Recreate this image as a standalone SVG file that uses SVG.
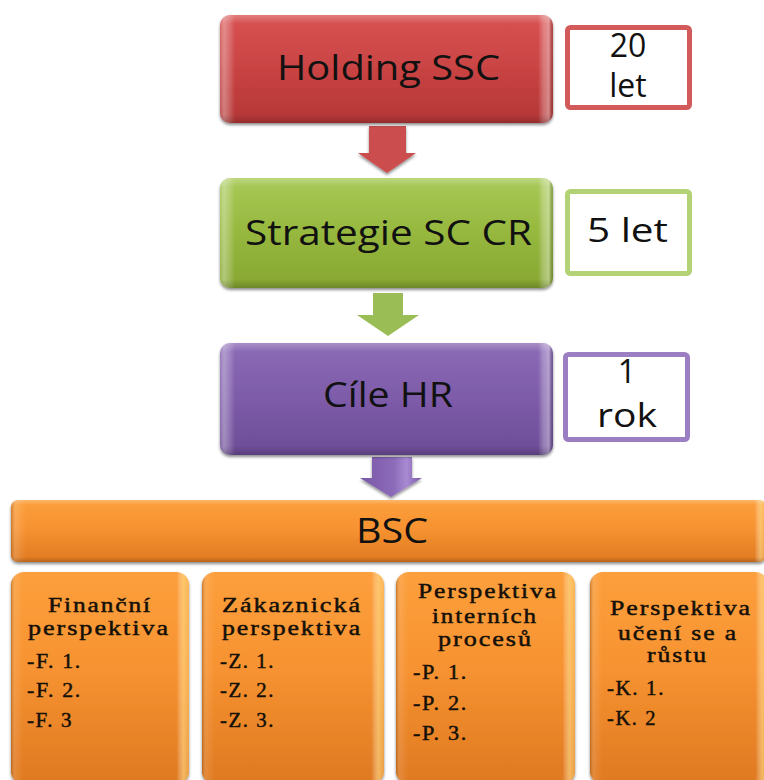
<svg xmlns="http://www.w3.org/2000/svg" width="764" height="780" viewBox="0 0 764 780">
  <style>
    .sans { font-family: "Open Sans", "Liberation Sans", sans-serif; fill: #111; }
    .serif { font-family: "Liberation Serif", "DejaVu Serif", serif; fill: #141008; stroke: #141008; stroke-width: 0.45px; font-size: 20px; letter-spacing: 1.5px; }
    .big { font-size: 34px; }
    .tag { font-size: 32px; }
  </style>
  <defs>
    <linearGradient id="gRed" x1="0" y1="0" x2="0" y2="1">
      <stop offset="0" stop-color="#d95353"/>
      <stop offset="0.5" stop-color="#c94343"/>
      <stop offset="1" stop-color="#b43636"/>
    </linearGradient>
    <linearGradient id="gGreen" x1="0" y1="0" x2="0" y2="1">
      <stop offset="0" stop-color="#a8c957"/>
      <stop offset="0.5" stop-color="#96b83e"/>
      <stop offset="1" stop-color="#86a631"/>
    </linearGradient>
    <linearGradient id="gPurple" x1="0" y1="0" x2="0" y2="1">
      <stop offset="0" stop-color="#8c6bb6"/>
      <stop offset="0.5" stop-color="#7d5ba9"/>
      <stop offset="1" stop-color="#6c4c96"/>
    </linearGradient>
    <linearGradient id="gOrange" x1="0" y1="0" x2="0" y2="1">
      <stop offset="0" stop-color="#fc9f3c"/>
      <stop offset="0.45" stop-color="#f79331"/>
      <stop offset="1" stop-color="#df7922"/>
    </linearGradient>
    <!-- side bevels: light bands at left and right edges -->
    <linearGradient id="bevelMain" x1="0" y1="0" x2="1" y2="0">
      <stop offset="0" stop-color="#fff" stop-opacity="0.15"/>
      <stop offset="0.012" stop-color="#fff" stop-opacity="0.35"/>
      <stop offset="0.03" stop-color="#fff" stop-opacity="0.18"/>
      <stop offset="0.045" stop-color="#fff" stop-opacity="0"/>
      <stop offset="0.955" stop-color="#fff" stop-opacity="0"/>
      <stop offset="0.97" stop-color="#fff" stop-opacity="0.25"/>
      <stop offset="0.988" stop-color="#fff" stop-opacity="0.4"/>
      <stop offset="1" stop-color="#000" stop-opacity="0.15"/>
    </linearGradient>
    <linearGradient id="bevelWide" x1="0" y1="0" x2="1" y2="0">
      <stop offset="0" stop-color="#7a3c00" stop-opacity="0.35"/>
      <stop offset="0.006" stop-color="#fff" stop-opacity="0.15"/>
      <stop offset="0.02" stop-color="#fff" stop-opacity="0"/>
      <stop offset="0.985" stop-color="#fff" stop-opacity="0"/>
      <stop offset="0.993" stop-color="#ffe090" stop-opacity="0.6"/>
      <stop offset="1" stop-color="#ffe090" stop-opacity="0.3"/>
    </linearGradient>
    <linearGradient id="bevelTile" x1="0" y1="0" x2="1" y2="0">
      <stop offset="0" stop-color="#7a3c00" stop-opacity="0.4"/>
      <stop offset="0.025" stop-color="#fff" stop-opacity="0.1"/>
      <stop offset="0.07" stop-color="#fff" stop-opacity="0"/>
      <stop offset="0.93" stop-color="#fff" stop-opacity="0"/>
      <stop offset="0.97" stop-color="#ffe08a" stop-opacity="0.6"/>
      <stop offset="1" stop-color="#ffe08a" stop-opacity="0.35"/>
    </linearGradient>
    <linearGradient id="topSheen" x1="0" y1="0" x2="0" y2="1">
      <stop offset="0" stop-color="#fff" stop-opacity="0.25"/>
      <stop offset="0.08" stop-color="#fff" stop-opacity="0"/>
      <stop offset="0.92" stop-color="#000" stop-opacity="0"/>
      <stop offset="1" stop-color="#000" stop-opacity="0.18"/>
    </linearGradient>
    <linearGradient id="arrowPurple" x1="0" y1="0" x2="1" y2="0">
      <stop offset="0" stop-color="#7a58a6"/>
      <stop offset="0.55" stop-color="#8c6bba"/>
      <stop offset="0.75" stop-color="#a88ad2"/>
      <stop offset="1" stop-color="#7a58a6"/>
    </linearGradient>
    <filter id="shadow" x="-5%" y="-5%" width="110%" height="120%">
      <feDropShadow dx="0" dy="2" stdDeviation="1.5" flood-color="#000" flood-opacity="0.45"/>
    </filter>
  </defs>

  <!-- connectors: block arrows between levels -->
  <g id="connectors">
    <polygon points="369,126 406,126 406,153 416,153 387,173 358,153 369,153" fill="#cc4d4d" filter="url(#shadow)"/>
    <polygon points="373,293 403,293 403,315 419,315 388,336 357,315 373,315" fill="#9bbd55"/>
    <polygon points="372,457 412,457 412,478 422,478 391,497 360,478 372,478" fill="url(#arrowPurple)" filter="url(#shadow)"/>
  </g>

  <!-- level 1 -->
  <g id="holding">
    <rect x="220" y="15" width="333" height="108" rx="10" fill="url(#gRed)" filter="url(#shadow)"/>
    <rect x="220" y="15" width="333" height="108" rx="10" fill="url(#bevelMain)"/>
    <rect x="220" y="15" width="333" height="108" rx="10" fill="url(#topSheen)"/>
    <text class="sans big" x="277" y="80" textLength="223" lengthAdjust="spacingAndGlyphs">Holding SSC</text>
  </g>
  <g id="term-20">
    <rect x="567.5" y="27.5" width="122" height="80" rx="3" fill="#fff" stroke="#d35a5a" stroke-width="5"/>
    <text class="sans tag" x="628" y="57" text-anchor="middle">20</text>
    <text class="sans tag" x="628" y="97" text-anchor="middle">let</text>
  </g>

  <!-- level 2 -->
  <g id="strategie">
    <rect x="220" y="178" width="333" height="110" rx="10" fill="url(#gGreen)" filter="url(#shadow)"/>
    <rect x="220" y="178" width="333" height="110" rx="10" fill="url(#bevelMain)"/>
    <rect x="220" y="178" width="333" height="110" rx="10" fill="url(#topSheen)"/>
    <text class="sans big" x="245" y="245" textLength="287" lengthAdjust="spacingAndGlyphs">Strategie SC CR</text>
  </g>
  <g id="term-5">
    <rect x="567.5" y="191.5" width="122" height="82" rx="3" fill="#fff" stroke="#b3d276" stroke-width="5"/>
    <text class="sans tag" x="587" y="242" textLength="81" lengthAdjust="spacingAndGlyphs">5 let</text>
  </g>

  <!-- level 3 -->
  <g id="cile-hr">
    <rect x="220" y="343" width="333" height="112" rx="10" fill="url(#gPurple)" filter="url(#shadow)"/>
    <rect x="220" y="343" width="333" height="112" rx="10" fill="url(#bevelMain)"/>
    <rect x="220" y="343" width="333" height="112" rx="10" fill="url(#topSheen)"/>
    <text class="sans big" x="323" y="407" textLength="130" lengthAdjust="spacingAndGlyphs">Cíle HR</text>
  </g>
  <g id="term-1">
    <rect x="565.5" y="354.5" width="122" height="85" rx="3" fill="#fff" stroke="#9c7ec2" stroke-width="5"/>
    <text class="sans tag" x="627" y="383" text-anchor="middle">1</text>
    <text class="sans tag" x="597" y="427" textLength="60" lengthAdjust="spacingAndGlyphs">rok</text>
  </g>

  <!-- BSC bar -->
  <g id="bsc">
    <rect x="11" y="500" width="755" height="62" rx="7" fill="url(#gOrange)" filter="url(#shadow)"/>
    <rect x="11" y="500" width="755" height="62" rx="7" fill="url(#bevelWide)"/>
    <rect x="11" y="500" width="755" height="62" rx="7" fill="url(#topSheen)"/>
    <text class="sans big" x="356" y="543" textLength="72" lengthAdjust="spacingAndGlyphs">BSC</text>
  </g>

  <!-- four perspectives -->
  <g id="financni">
    <rect x="11" y="572" width="178" height="212" rx="13" fill="url(#gOrange)" filter="url(#shadow)"/>
    <rect x="11" y="572" width="178" height="212" rx="13" fill="url(#bevelTile)"/>
    <text class="serif" x="48" y="612" textLength="104" lengthAdjust="spacingAndGlyphs">Finanční</text>
    <text class="serif" x="28" y="635" textLength="142" lengthAdjust="spacingAndGlyphs">perspektiva</text>
    <text class="serif" x="27" y="668" textLength="55" lengthAdjust="spacingAndGlyphs">-F. 1.</text>
    <text class="serif" x="27" y="697" textLength="55" lengthAdjust="spacingAndGlyphs">-F. 2.</text>
    <text class="serif" x="27" y="727" textLength="46" lengthAdjust="spacingAndGlyphs">-F. 3</text>
  </g>
  <g id="zakaznicka">
    <rect x="202" y="572" width="182" height="212" rx="13" fill="url(#gOrange)" filter="url(#shadow)"/>
    <rect x="202" y="572" width="182" height="212" rx="13" fill="url(#bevelTile)"/>
    <text class="serif" x="222" y="612" textLength="140" lengthAdjust="spacingAndGlyphs">Zákaznická</text>
    <text class="serif" x="222" y="635" textLength="140" lengthAdjust="spacingAndGlyphs">perspektiva</text>
    <text class="serif" x="220" y="668" textLength="55" lengthAdjust="spacingAndGlyphs">-Z. 1.</text>
    <text class="serif" x="220" y="697" textLength="55" lengthAdjust="spacingAndGlyphs">-Z. 2.</text>
    <text class="serif" x="220" y="727" textLength="55" lengthAdjust="spacingAndGlyphs">-Z. 3.</text>
  </g>
  <g id="interni-procesy">
    <rect x="396" y="572" width="179" height="212" rx="13" fill="url(#gOrange)" filter="url(#shadow)"/>
    <rect x="396" y="572" width="179" height="212" rx="13" fill="url(#bevelTile)"/>
    <text class="serif" x="418" y="598" textLength="140" lengthAdjust="spacingAndGlyphs">Perspektiva</text>
    <text class="serif" x="432" y="623" textLength="106" lengthAdjust="spacingAndGlyphs">interních</text>
    <text class="serif" x="438" y="646" textLength="95" lengthAdjust="spacingAndGlyphs">procesů</text>
    <text class="serif" x="413" y="679" textLength="55" lengthAdjust="spacingAndGlyphs">-P. 1.</text>
    <text class="serif" x="413" y="710" textLength="55" lengthAdjust="spacingAndGlyphs">-P. 2.</text>
    <text class="serif" x="413" y="740" textLength="55" lengthAdjust="spacingAndGlyphs">-P. 3.</text>
  </g>
  <g id="uceni-rust">
    <rect x="590" y="572" width="178" height="212" rx="13" fill="url(#gOrange)" filter="url(#shadow)"/>
    <rect x="590" y="572" width="178" height="212" rx="13" fill="url(#bevelTile)"/>
    <text class="serif" x="610" y="615" textLength="142" lengthAdjust="spacingAndGlyphs">Perspektiva</text>
    <text class="serif" x="618" y="640" textLength="120" lengthAdjust="spacingAndGlyphs">učení se a</text>
    <text class="serif" x="647" y="662" textLength="61" lengthAdjust="spacingAndGlyphs">růstu</text>
    <text class="serif" x="607" y="695" textLength="58" lengthAdjust="spacingAndGlyphs">-K. 1.</text>
    <text class="serif" x="607" y="725" textLength="50" lengthAdjust="spacingAndGlyphs">-K. 2</text>
  </g>
</svg>
